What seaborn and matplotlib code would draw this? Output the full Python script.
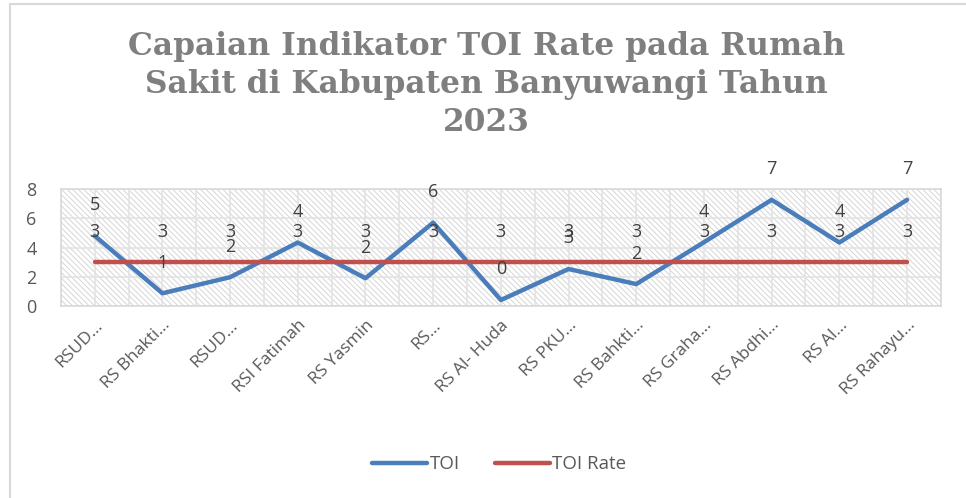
import pandas as pd
import matplotlib.pyplot as plt
import matplotlib.patches as mpatches
from matplotlib.lines import Line2D
import seaborn as sns

# Data
rumah_sakit = ['RSUD…', 'RS Bhakti…', 'RSUD…', 'RSI Fatimah', 'RS Yasmin', 'RS…',
               'RS Al- Huda', 'RS PKU…', 'RS Bahkti…', 'RS Graha…', 'RS Abdhi…',
               'RS Al…', 'RS Rahayu…']
toi = [4.8, 0.87, 1.97, 4.34, 1.9, 5.7, 0.41, 2.53, 1.5, 4.36, 7.26, 4.34, 7.26]
toi_rate = [3] * 13

blue = '#4A7EBB'
red = '#C0504D'
txt = '#595959'

sns.set_style('white')
plt.rcParams['font.family'] = ['Open Sans', 'DejaVu Sans']
plt.rcParams['hatch.linewidth'] = 0.7

df = pd.DataFrame({
    'idx': list(range(len(rumah_sakit))) * 2,
    'nilai': toi + toi_rate,
    'seri': ['TOI'] * len(toi) + ['TOI Rate'] * len(toi_rate),
})

fig = plt.figure(figsize=(9.66, 4.98), dpi=100)
ax = fig.add_axes([0.063, 0.3855, 0.911, 0.235])

# background hatch of the plot area
ax.add_patch(mpatches.Rectangle((0, 0), 1, 1, transform=ax.transAxes, facecolor='white',
                                edgecolor='#D6D6D6', hatch='\\\\\\\\\\\\', lw=0, zorder=0))

sns.lineplot(data=df, x='idx', y='nilai', hue='seri', palette={'TOI': blue, 'TOI Rate': red},
             lw=3.2, ax=ax, legend=False, sort=False, zorder=3)

ax.set_xlim(-0.5, len(rumah_sakit) - 0.5)
ax.set_ylim(0, 8)
ax.set_yticks([0, 2, 4, 6, 8])
ax.set_xticks(range(len(rumah_sakit)))
ax.set_xticks([i + 0.5 for i in range(-1, len(rumah_sakit))], minor=True)
ax.grid(True, which='both', color='#E3E3E3', lw=1.2, zorder=1)
ax.set_axisbelow(True)
ax.set_xticklabels(rumah_sakit, rotation=45, ha='right', rotation_mode='anchor',
                   fontsize=12.5, color=txt)
ax.tick_params(axis='y', labelsize=13, labelcolor=txt, pad=14)
ax.tick_params(axis='x', which='both', length=0, pad=8)
ax.set_xlabel('')
ax.set_ylabel('')
for s in ax.spines.values():
    s.set_color('#D9D9D9')
    s.set_linewidth(1.2)

# data labels
for i, (a, b) in enumerate(zip(toi, toi_rate)):
    ax.annotate(f'{a:.0f}', (i, a), xytext=(0, 22), textcoords='offset points',
                ha='center', va='center', fontsize=13, color='#404040', zorder=4)
    ax.annotate(f'{b:.0f}', (i, b), xytext=(0, 22), textcoords='offset points',
                ha='center', va='center', fontsize=13, color='#404040', zorder=4)

fig.text(0.504, 0.736, 'Capaian Indikator TOI Rate pada Rumah\nSakit di Kabupaten Banyuwangi Tahun\n2023',
         ha='center', va='baseline', fontsize=22.5, fontweight='bold', color='#7F7F7F',
         family='DejaVu Serif', linespacing=1.3)

handles = [Line2D([], [], color=blue, lw=3.2), Line2D([], [], color=red, lw=3.2)]
fig.legend(handles, ['TOI', 'TOI Rate'], loc='center', bbox_to_anchor=(0.517, 0.068), ncol=2,
           frameon=False, fontsize=13.5, handlelength=2.9, handletextpad=0.15,
           columnspacing=1.9, labelcolor=txt)

# chart border
fig.add_artist(mpatches.Rectangle((0.0105, -0.05), 1.0, 1.042, transform=fig.transFigure,
                                  fill=False, edgecolor='#D9D9D9', lw=1.5))

fig.savefig('out.png', dpi=100)
